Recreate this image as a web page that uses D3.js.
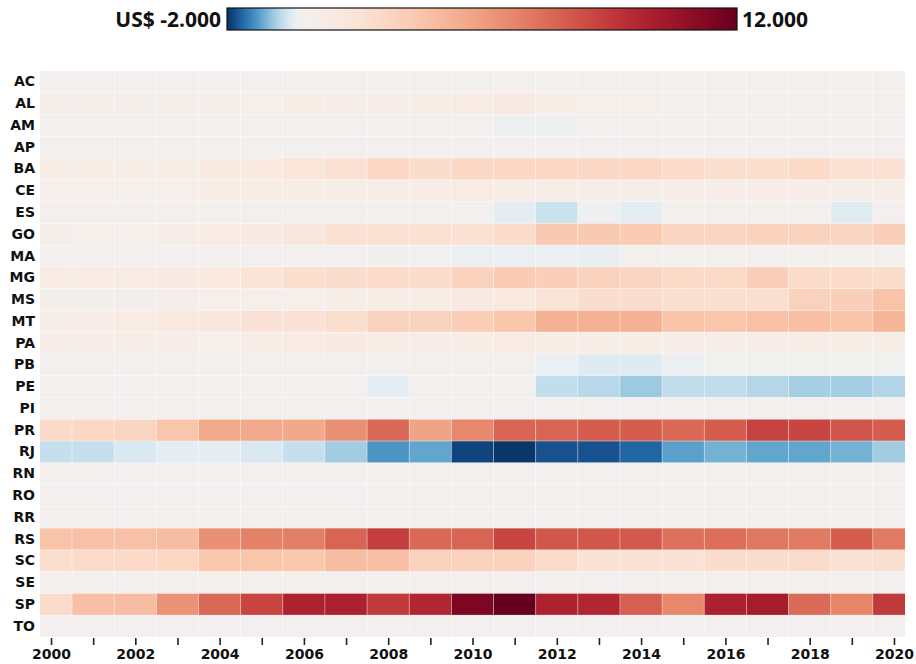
<!DOCTYPE html>
<html>
<head>
<meta charset="utf-8">
<script src="https://cdn.jsdelivr.net/npm/d3@7"></script>
<style>
  html, body { margin: 0; padding: 0; background: #ffffff; }
  svg { display: block; }
</style>
</head>
<body>
<svg id="chart" width="916" height="664"></svg>
<script>
// Yearly balance by Brazilian state, 2000–2020 (US$, thousands)
const years = d3.range(2000, 2021);
const tickYears = [2000, 2002, 2004, 2006, 2008, 2010, 2012, 2014, 2016, 2018, 2020];
const states = ["AC","AL","AM","AP","BA","CE","ES","GO","MA","MG","MS","MT","PA",
                "PB","PE","PI","PR","RJ","RN","RO","RR","RS","SC","SE","SP","TO"];
const legendDomain = [-2000, 0, 12000];
const legendLabels = ["US$ -2.000", "12.000"];

const AC = [30,30,30,30,30,30,40,40,40,40,50,50,40,40,40,40,40,40,40,40,40];
const AL = [300,300,300,300,300,400,700,500,500,600,800,900,700,400,400,200,200,200,200,200,200];
const AM = [40,40,40,40,40,30,30,30,20,20,10,-60,-60,20,30,30,30,30,30,30,30];
const AP = [30,30,30,30,30,30,30,30,30,30,30,30,30,30,30,30,30,30,30,30,30];
const BA = [600,600,600,600,1000,1100,1400,1700,2300,2000,2300,2400,2400,2300,2300,2100,1900,1900,2200,1700,1700];
const CE = [400,400,400,400,600,600,600,600,600,600,800,700,600,600,500,500,500,500,500,500,500];
const ES = [50,50,40,40,40,40,30,30,20,20,-20,-200,-420,-80,-200,40,50,100,60,-230,0];
const GO = [300,350,400,500,800,900,1300,1700,1700,1700,1700,2100,3100,3100,3000,2500,2500,2600,2600,2500,2800];
const MA = [20,20,20,20,10,0,0,0,-10,-20,-100,-100,-100,-140,150,150,150,150,150,130,130];
const MG = [800,800,800,900,1100,1500,1900,2000,2100,2000,2600,3000,2800,2600,2500,2200,2200,2800,2100,2100,2000];
const MS = [300,300,300,300,400,400,400,600,600,700,900,1100,1500,2000,2000,1800,1800,1900,2700,2800,3400];
const MT = [600,650,800,1000,1300,1600,1600,1900,2700,2600,2900,3300,4200,4200,4200,3400,3300,3500,3600,3400,4000];
const PA = [500,500,500,500,400,700,800,900,700,500,700,800,700,600,600,500,500,500,700,600,600];
const PB = [20,20,20,20,20,20,20,20,20,20,0,0,-120,-250,-250,-100,-30,-30,-30,-30,-30];
const PE = [30,30,30,30,30,30,30,30,-200,0,0,0,-480,-560,-720,-490,-490,-580,-660,-680,-600];
const PI = [30,30,30,30,30,30,30,30,30,30,30,30,30,30,30,30,30,30,30,30,30];
const PR = [2200,2400,2500,3300,4500,4500,4600,5500,6900,4800,5800,7000,7000,7300,7300,6900,7300,8200,8100,7600,7300];
const RJ = [-450,-450,-300,-200,-200,-300,-450,-700,-1200,-1050,-1850,-1950,-1750,-1750,-1600,-1100,-950,-1050,-1050,-950,-700];
const RN = [30,30,30,30,30,30,30,30,30,30,30,30,30,30,30,30,30,30,30,30,30];
const RO = [30,30,30,30,30,30,30,30,40,40,40,40,50,60,60,60,50,50,50,50,70];
const RR = [20,20,20,20,20,20,20,20,20,20,20,20,20,20,20,20,20,20,20,20,20];
const RS = [3400,3500,3500,3700,5500,6000,6100,7000,8400,6900,7000,8100,7500,7500,7400,6600,6700,6400,6300,7300,6300];
const SC = [1900,2100,2200,2400,3200,3300,3200,3700,3600,2700,2700,2700,2100,1600,1600,1600,2000,2000,2100,1700,1800];
const SE = [30,30,30,30,30,30,30,30,30,30,30,30,30,30,30,30,30,30,30,30,30];
const SP = [2100,3600,3700,5400,6900,8100,9500,9600,8500,9300,11300,12000,9500,9300,7200,5800,9600,9800,6800,5900,8500];
const TO = [30,30,30,30,30,30,30,30,30,30,30,30,30,30,30,30,30,30,30,30,30];

const rows = [AC,AL,AM,AP,BA,CE,ES,GO,MA,MG,MS,MT,PA,PB,PE,PI,PR,RJ,RN,RO,RR,RS,SC,SE,SP,TO];

const cells = [];
states.forEach((s, i) => {
  rows[i].forEach((v, j) => cells.push({ state: s, year: years[j], value: v }));
});

const svg = d3.select("#chart");

// plot frame
const plot = { left: 40, right: 905, top: 71, bottom: 637 };

const x = d3.scaleLinear()
  .domain([1999.5, 2020.5])
  .range([29.95, 915.05]);

const y = d3.scaleBand()
  .domain(states)
  .range([plot.top, plot.bottom]);

const color = d3.scaleDiverging()
  .domain(legendDomain)
  .interpolator(t => d3.interpolateRdBu(1 - t));

svg.append("defs").append("clipPath")
  .attr("id", "plot-clip")
  .append("rect")
  .attr("x", plot.left).attr("y", plot.top)
  .attr("width", plot.right - plot.left)
  .attr("height", plot.bottom - plot.top);

svg.append("g")
  .attr("clip-path", "url(#plot-clip)")
  .selectAll("rect")
  .data(cells)
  .join("rect")
  .attr("x", d => x(d.year - 0.5))
  .attr("y", d => y(d.state))
  .attr("width", d => x(d.year + 0.5) - x(d.year - 0.5))
  .attr("height", y.bandwidth())
  .attr("fill", d => color(d.value))
  .attr("stroke", "#ffffff")
  .attr("stroke-opacity", 0.35)
  .attr("stroke-width", 0.8);

// state labels
const yAxis = svg.append("g")
  .attr("transform", `translate(${plot.left},0)`)
  .call(d3.axisLeft(y).tickSize(0).tickPadding(5));
yAxis.select(".domain").remove();
yAxis.selectAll("text")
  .attr("fill", "#111")
  .style("font-family", "'DejaVu Sans', sans-serif")
  .style("font-weight", "bold")
  .style("font-size", "14px");

// year axis: a tick every year, a label every other year
const xAxis = svg.append("g")
  .attr("transform", `translate(0,${plot.bottom + 1})`)
  .call(d3.axisBottom(x)
    .tickValues(years)
    .tickSize(7)
    .tickPadding(4)
    .tickFormat(d => tickYears.includes(d) ? String(d) : ""));
xAxis.select(".domain").remove();
xAxis.selectAll("line").attr("stroke", "#222").attr("stroke-width", 1.6);
xAxis.selectAll("text")
  .attr("fill", "#111")
  .style("font-family", "'DejaVu Sans', sans-serif")
  .style("font-weight", "bold")
  .style("font-size", "14px");

// colour legend
const legend = { x: 227, y: 8, w: 510, h: 22 };
const legendX = d3.scaleLinear().domain([legendDomain[0], legendDomain[2]]).range([0, legend.w]);
const grad = svg.select("defs").append("linearGradient")
  .attr("id", "legend-grad")
  .attr("x1", "0%").attr("x2", "100%").attr("y1", "0%").attr("y2", "0%");
grad.selectAll("stop")
  .data(d3.range(0, 1.0001, 0.01))
  .join("stop")
  .attr("offset", d => `${d * 100}%`)
  .attr("stop-color", d => color(legendX.invert(d * legend.w)));

svg.append("rect")
  .attr("x", legend.x).attr("y", legend.y)
  .attr("width", legend.w).attr("height", legend.h)
  .attr("fill", "url(#legend-grad)")
  .attr("stroke", "#111")
  .attr("stroke-width", 1.2);

svg.append("text")
  .attr("x", legend.x - 6).attr("y", legend.y + legend.h / 2)
  .attr("text-anchor", "end").attr("dominant-baseline", "central")
  .attr("fill", "#111")
  .style("font-family", "'Open Sans', sans-serif")
  .style("font-weight", "bold")
  .style("font-size", "21px")
  .text(legendLabels[0]);

svg.append("text")
  .attr("x", legend.x + legend.w + 5).attr("y", legend.y + legend.h / 2)
  .attr("text-anchor", "start").attr("dominant-baseline", "central")
  .attr("fill", "#111")
  .style("font-family", "'Open Sans', sans-serif")
  .style("font-weight", "bold")
  .style("font-size", "21px")
  .text(legendLabels[1]);
</script>
</body>
</html>
